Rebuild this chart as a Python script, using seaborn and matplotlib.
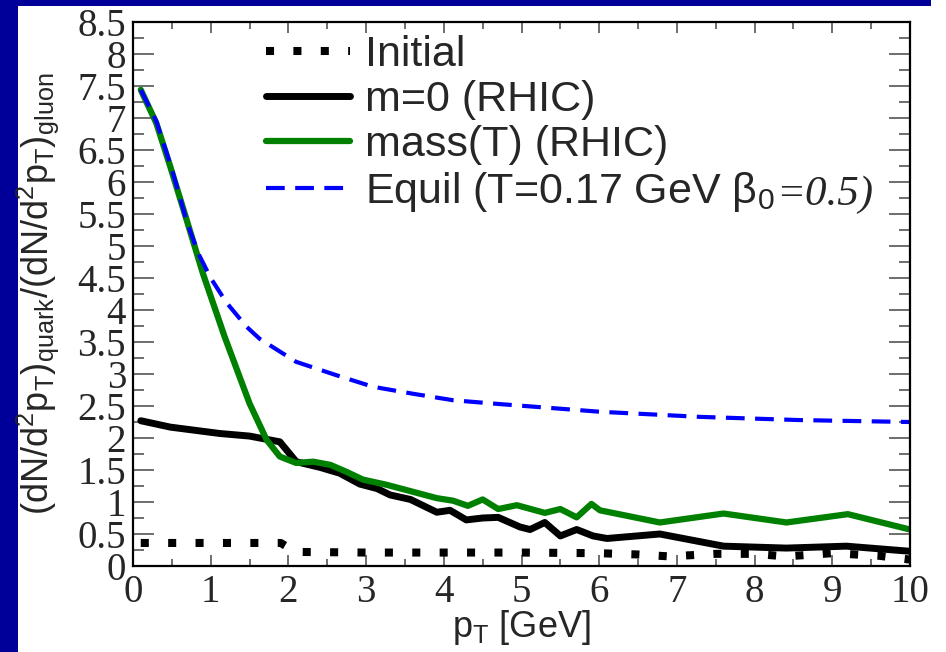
import matplotlib
matplotlib.use("Agg")
import matplotlib.pyplot as plt
from matplotlib.patches import Rectangle
from matplotlib.ticker import MultipleLocator
import seaborn as sns

# ---- data -----------------------------------------------------------------
initial_pt = [0.1, 0.5, 1.0, 1.5, 1.9, 2.1, 3.0, 4.0, 5.0, 6.0, 6.5, 6.9,
              7.5, 8.0, 8.4, 9.0, 9.6, 10.0]
initial_r = [0.36, 0.36, 0.36, 0.36, 0.36, 0.22, 0.21, 0.21, 0.21, 0.20,
             0.18, 0.15, 0.19, 0.19, 0.15, 0.20, 0.16, 0.10]

m0_pt = [0.1, 0.48, 1.12, 1.5, 1.89, 2.1, 2.41, 2.66, 2.92, 3.14, 3.31, 3.57,
         3.91, 4.08, 4.29, 4.5, 4.7, 4.98, 5.11, 5.3, 5.5, 5.71, 5.92, 6.1,
         6.78, 7.6, 8.41, 9.18, 10.0]
m0_r = [2.27, 2.17, 2.07, 2.03, 1.94, 1.63, 1.54, 1.45, 1.28, 1.21, 1.11, 1.04,
        0.84, 0.87, 0.72, 0.75, 0.76, 0.61, 0.57, 0.68, 0.47, 0.57, 0.47, 0.43,
        0.50, 0.31, 0.28, 0.31, 0.23]

massT_pt = [0.1, 0.3, 0.48, 0.69, 0.9, 1.18, 1.5, 1.72, 1.89, 2.1, 2.32, 2.54,
            2.75, 2.96, 3.26, 3.57, 3.91, 4.12, 4.31, 4.5, 4.7, 4.94, 5.3, 5.5,
            5.71, 5.9, 6.01, 6.78, 7.6, 8.41, 9.2, 10.0]
massT_r = [7.44, 6.92, 6.24, 5.41, 4.57, 3.58, 2.54, 1.97, 1.71, 1.61, 1.63,
           1.58, 1.47, 1.35, 1.27, 1.17, 1.06, 1.02, 0.94, 1.04, 0.89, 0.95,
           0.83, 0.89, 0.76, 0.97, 0.87, 0.68, 0.82, 0.68, 0.81, 0.57]

equil_pt = [0.1, 0.3, 0.5, 0.7, 0.85, 1.0, 1.2, 1.46, 1.63, 2.1, 2.62, 3.09,
            3.61, 4.12, 4.72, 6.01, 7.3, 8.58, 10.0]
equil_r = [7.44, 6.95, 6.2, 5.35, 4.86, 4.5, 4.12, 3.74, 3.55, 3.19, 2.98,
           2.80, 2.69, 2.59, 2.53, 2.41, 2.33, 2.28, 2.25]

labels = ["Initial", "m=0 (RHIC)", "mass(T) (RHIC)",
          "Equil (T=0.17 GeV β$_{\\mathrm{0}}$"]
beta_value = "=0.5)"
x_ticks = list(range(0, 11))
y_ticks = [i * 0.5 for i in range(0, 18)]

# ---- style ----------------------------------------------------------------
sns.set_style("ticks")
plt.rcParams["font.family"] = ["Liberation Sans", "DejaVu Sans"]
plt.rcParams["mathtext.fontset"] = "custom"
plt.rcParams["mathtext.rm"] = "Liberation Sans"
plt.rcParams["mathtext.sf"] = "Liberation Sans"

fig = plt.figure(figsize=(9.46, 6.52), dpi=100, facecolor="white")
W, H = 946, 652
ax = fig.add_axes([133 / W, 1 - 566 / H, (910 - 133) / W, (566 - 22) / H])

# slide frame
navy = "#000099"
fig.add_artist(Rectangle((0, 0), 18 / W, 1, transform=fig.transFigure,
                         facecolor=navy, edgecolor="none", zorder=-10))
fig.add_artist(Rectangle((0, 1 - 6 / H), 931 / W, 6 / H, transform=fig.transFigure,
                         facecolor=navy, edgecolor="none", zorder=-10))

# ---- curves ---------------------------------------------------------------
sns.lineplot(x=initial_pt, y=initial_r, ax=ax, color="black", lw=5.8,
             label=labels[0], estimator=None, sort=False)
ax.lines[-1].set_linestyle((0, (1, 2.4)))
ax.lines[-1].set_dash_capstyle("butt")
sns.lineplot(x=m0_pt, y=m0_r, ax=ax, color="black", lw=5.0,
             label=labels[1], estimator=None, sort=False)
sns.lineplot(x=massT_pt, y=massT_r, ax=ax, color="#008000", lw=4.5,
             label=labels[2], estimator=None, sort=False)
sns.lineplot(x=equil_pt, y=equil_r, ax=ax, color="#0000ff", lw=3.0,
             label=labels[3], estimator=None, sort=False)
ax.lines[-1].set_linestyle((0, (4.5, 2.5)))

# ---- axes -----------------------------------------------------------------
ax.set_xlim(0, 10)
ax.set_ylim(0, 8.5)
ax.set_xticks(x_ticks)
ax.set_yticks(y_ticks)
ax.set_xticklabels([str(t) for t in x_ticks])
ax.set_yticklabels([("%g" % t) for t in y_ticks])
ax.xaxis.set_minor_locator(MultipleLocator(0.5))
ax.yaxis.set_minor_locator(MultipleLocator(0.25))
ax.tick_params(which="both", direction="in", top=True, right=True,
               color="#555555", width=1.2)
ax.tick_params(axis="x", which="major", length=8, pad=6)
ax.tick_params(axis="x", which="minor", length=5)
ax.tick_params(axis="y", which="major", length=15, pad=5)
ax.tick_params(axis="y", which="minor", length=8)
for lab in ax.get_xticklabels() + ax.get_yticklabels():
    lab.set_fontfamily("Liberation Serif")
    lab.set_fontsize(28)
for sp in ax.spines.values():
    sp.set_linewidth(1.6)
    sp.set_color("black")

ax.set_xlabel(r"p$_\mathrm{T}$ [GeV]", fontsize=26)
ax.xaxis.set_label_coords(0.5, -0.078)
ax.set_ylabel(r"(dN/d$^2$p$_\mathrm{T}$)$_\mathrm{quark}$/(dN/d$^2$p$_\mathrm{T}$)$_\mathrm{gluon}$",
              fontsize=26)
ax.yaxis.set_label_coords(-0.093, 0.5)

leg = ax.legend(loc="upper left", bbox_to_anchor=(0.143, 1.016), frameon=False,
                fontsize=31, handlelength=1.95, handletextpad=0.36,
                labelspacing=0.12, borderaxespad=0.1)

# italic serif value appended after the last legend entry (drawn after the legend)
ax.annotate(beta_value, xy=(1, 0), xycoords=leg.get_texts()[3],
            xytext=(1, 0), textcoords="offset points",
            ha="left", va="bottom", fontsize=31, zorder=10,
            fontfamily="Liberation Serif", fontstyle="italic")

fig.savefig("out.png", dpi=100, facecolor=fig.get_facecolor())
